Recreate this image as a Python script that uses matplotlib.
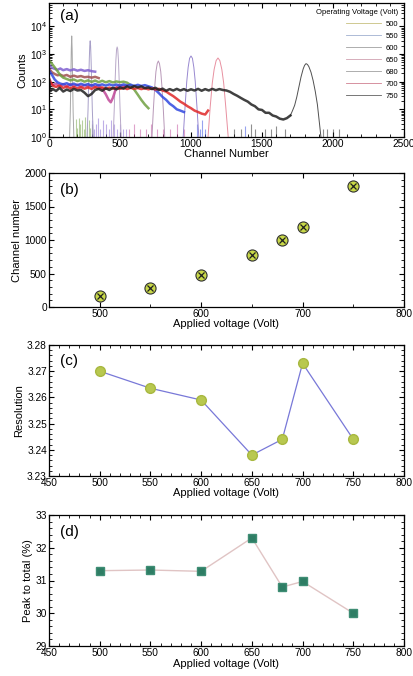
import matplotlib
matplotlib.use("Agg")
import matplotlib.pyplot as plt
from matplotlib.ticker import LogLocator, NullFormatter, MultipleLocator, FormatStrFormatter
from matplotlib.lines import Line2D

plt.rcParams['font.family'] = ['Liberation Sans', 'DejaVu Sans']
plt.rcParams['mathtext.fontset'] = 'custom'
plt.rcParams['mathtext.rm'] = 'Liberation Sans'

# ---------------- data ----------------
voltages = [500, 550, 600, 650, 680, 700, 750]
peak_channel = [160, 290, 480, 770, 1000, 1190, 1810]
resolution = [3.270, 3.2635, 3.259, 3.238, 3.244, 3.273, 3.244]
peak_to_total = [31.30, 31.32, 31.28, 32.30, 30.80, 30.97, 30.00]

spec_colors = ['#a05050', '#8060d0', '#c04898', '#70a040', '#3048e0', '#e02828', '#202020']
peak_colors = ['#a8a8a8', '#a8a0c8', '#b8a8c8', '#b898b8', '#9888d0', '#e890a0', '#505050']

# continuum (channel, counts) per voltage
cont_ch_500 = [0, 20, 40, 60, 80, 100, 125, 150, 175, 200, 225, 250, 275, 300, 325, 350]
cont_ct_500 = [300, 220, 190, 170, 180, 160, 175, 150, 165, 150, 160, 145, 150, 140, 150, 135]

cont_ch_550 = [0, 20, 40, 60, 80, 100, 125, 150, 175, 200, 225, 250, 275, 300, 325]
cont_ct_550 = [420, 320, 290, 270, 300, 260, 285, 255, 280, 250, 270, 245, 260, 240, 230]

cont_ch_600 = [0, 25, 50, 75, 100, 125, 150, 175, 200, 225, 250, 275, 300, 325, 350, 375, 400,
               420, 435, 450, 465, 480, 500, 525, 550]
cont_ct_600 = [95, 75, 85, 70, 82, 68, 80, 70, 78, 66, 76, 68, 75, 66, 72, 55, 35,
               22, 18, 26, 45, 65, 75, 68, 72]

cont_ch_650 = [0, 20, 40, 60, 80, 100, 125, 150, 175, 200, 225, 250, 275, 300, 325, 350, 375,
               400, 425, 450, 475, 500, 525, 550, 575, 600, 625, 650, 675, 700]
cont_ct_650 = [600, 450, 330, 240, 170, 140, 125, 112, 120, 105, 115, 100, 112, 98, 110, 96, 108,
               95, 105, 94, 102, 96, 100, 92, 75, 52, 34, 22, 15, 11]

cont_ch_680 = [0, 20, 40, 60, 80, 100, 125, 150, 175, 200, 225, 250, 275, 300, 325, 350, 375,
               400, 425, 450, 475, 500, 525, 550, 575, 600, 625, 650, 675, 700, 725, 750,
               775, 800, 825, 850, 875, 900, 925, 950]
cont_ct_680 = [250, 180, 120, 95, 85, 80, 88, 76, 85, 74, 84, 75, 82, 72, 82, 74, 80,
               72, 80, 73, 79, 71, 80, 72, 78, 70, 77, 70, 75, 68, 62, 50,
               38, 28, 22, 16, 13, 10, 9, 8]

cont_ch_700 = [0, 15, 30, 50, 75, 100, 125, 150, 175, 200, 225, 250, 275, 300, 325, 350, 375,
               400, 425, 450, 475, 500, 525, 550, 575, 600, 625, 650, 675, 700, 725, 750,
               775, 800, 825, 850, 875, 900, 925, 950, 975, 1000, 1025, 1050, 1075, 1100, 1120]
cont_ct_700 = [130, 90, 70, 65, 72, 60, 66, 58, 64, 57, 63, 56, 62, 55, 63, 57, 62,
               55, 61, 56, 60, 55, 61, 54, 60, 55, 59, 54, 58, 53, 57, 52,
               55, 48, 44, 36, 30, 24, 19, 16, 13, 11, 9, 8, 7, 6.5, 9]

cont_ch_750 = [0, 10, 25, 50, 75, 100, 125, 150, 175, 200, 225, 250, 275, 300, 325, 350, 375,
               400, 425, 450, 475, 500, 525, 550, 575, 600, 625, 650, 675, 700, 725, 750,
               775, 800, 825, 850, 875, 900, 925, 950, 975, 1000, 1025, 1050, 1075, 1100,
               1125, 1150, 1175, 1200, 1225, 1250, 1275, 1300, 1325, 1350, 1375, 1400,
               1425, 1450, 1475, 1500, 1525, 1550, 1575, 1600, 1625, 1650, 1675, 1700]
cont_ct_750 = [120, 45, 55, 46, 60, 44, 52, 46, 55, 48, 50, 40, 30, 36, 50, 55, 47,
               58, 50, 60, 53, 62, 56, 68, 60, 70, 62, 68, 58, 62, 54, 60,
               50, 56, 47, 54, 48, 55, 48, 54, 47, 53, 48, 55, 47, 54,
               48, 55, 49, 54, 50, 48, 43, 36, 31, 26, 22, 19,
               15, 13, 10, 9.5, 7.5, 7.5, 6, 5.5, 4.6, 4.3, 4.8, 6.0]

# photo-peaks (channel, counts) per voltage
peak_ch_500 = [145, 150, 154, 157, 160, 163, 166, 170, 175]
peak_ct_500 = [1, 8, 150, 1500, 4500, 1500, 150, 8, 1]
peak_ch_550 = [268, 275, 280, 284, 287, 290, 293, 296, 300, 305, 312]
peak_ct_550 = [1, 10, 120, 700, 2000, 3000, 2000, 700, 120, 10, 1]
peak_ch_600 = [452, 460, 466, 471, 476, 480, 484, 489, 494, 500, 508]
peak_ct_600 = [1, 12, 120, 600, 1500, 1800, 1500, 600, 120, 12, 1]
peak_ch_650 = [725, 735, 745, 753, 762, 770, 778, 787, 795, 805, 815]
peak_ct_650 = [1, 10, 70, 230, 450, 560, 450, 230, 70, 10, 1]
peak_ch_680 = [945, 958, 970, 980, 990, 1000, 1010, 1020, 1030, 1042, 1055]
peak_ct_680 = [1, 12, 100, 330, 700, 850, 700, 330, 100, 12, 1]
peak_ch_700 = [1120, 1135, 1150, 1163, 1177, 1190, 1203, 1217, 1230, 1245, 1262]
peak_ct_700 = [1, 12, 90, 280, 580, 720, 580, 280, 90, 12, 1]
peak_ch_750 = [1700, 1715, 1730, 1745, 1760, 1775, 1790, 1800, 1810, 1820, 1830, 1845,
               1860, 1875, 1890, 1905, 1915]
peak_ct_750 = [6, 9, 14, 28, 65, 150, 290, 390, 450, 420, 350, 220, 110, 45, 15, 3, 1]

# sparse low-count channels above the peaks
spike_ch_650 = [190, 200, 210, 220, 235, 245, 255, 265, 280, 290, 300]
spike_ct_650 = [4.5, 2.2, 5.0, 3.0, 4.0, 2.0, 5.2, 3.0, 4.0, 2.2, 3.0]
spike_ch_550 = [300, 315, 330, 345, 360, 380, 400, 420, 440, 460, 480, 500, 520, 540]
spike_ct_550 = [4.0, 2.0, 3.0, 5.0, 2.0, 4.0, 3.0, 2.0, 4.0, 3.0, 2.0, 3.0, 2.0, 2.0]
spike_ch_600 = [560, 600, 640, 680, 720, 760, 800, 850, 900, 950]
spike_ct_600 = [2.0, 3.0, 2.0, 2.0, 3.0, 2.0, 2.0, 2.0, 3.0, 2.0]
spike_ch_680 = [1040, 1060, 1080, 1100, 1380]
spike_ct_680 = [3.0, 2.0, 4.0, 2.0, 2.5]
spike_ch_750 = [1300, 1350, 1420, 1450, 1520, 1560, 1600, 1660, 1930, 1960, 2000, 2040]
spike_ct_750 = [2.0, 2.0, 3.0, 2.0, 2.0, 2.0, 2.5, 2.0, 2.0, 2.0, 2.0, 2.0]

continua = [(cont_ch_500, cont_ct_500), (cont_ch_550, cont_ct_550), (cont_ch_600, cont_ct_600),
            (cont_ch_650, cont_ct_650), (cont_ch_680, cont_ct_680), (cont_ch_700, cont_ct_700),
            (cont_ch_750, cont_ct_750)]
peaks = [(peak_ch_500, peak_ct_500), (peak_ch_550, peak_ct_550), (peak_ch_600, peak_ct_600),
         (peak_ch_650, peak_ct_650), (peak_ch_680, peak_ct_680), (peak_ch_700, peak_ct_700),
         (peak_ch_750, peak_ct_750)]
spikes = [(spike_ch_650, spike_ct_650, 3), (spike_ch_550, spike_ct_550, 1),
          (spike_ch_600, spike_ct_600, 2), (spike_ch_680, spike_ct_680, 4),
          (spike_ch_750, spike_ct_750, 6)]
legend_colors = ['#c8c080', '#a0b0d0', '#a0a0a0', '#d0a0b0', '#a0a0a0', '#d08090', '#606060']

# ---------------- figure ----------------
fig = plt.figure(figsize=(4.14, 6.76), dpi=100)
W, H = 414, 676

def add_ax(top, bottom, left=49, right=404):
    return fig.add_axes([left / W, 1 - bottom / H, (right - left) / W, (bottom - top) / H])

ax_a = add_ax(3, 137)
ax_b = add_ax(173, 307)
ax_c = add_ax(345, 476)
ax_d = add_ax(515, 646)

tick_fs = 7.3
label_fs = 8

def style(ax):
    ax.tick_params(which='both', direction='in', top=True, right=True, labelsize=tick_fs, pad=1.5)
    ax.tick_params(which='major', length=3.5, width=0.8)
    ax.tick_params(which='minor', length=2, width=0.6)
    for s in ax.spines.values():
        s.set_linewidth(0.9)

# (a)
for ch, ct, i in spikes:
    ax_a.vlines(ch, 1, ct, color=spec_colors[i], lw=0.8, alpha=0.5)
for (ch, ct), col in zip(peaks, peak_colors):
    ax_a.plot(ch, ct, color=col, lw=0.7)
for (ch, ct), col in zip(continua, spec_colors):
    ax_a.plot(ch, ct, color=col, lw=1.8, alpha=0.85)
ax_a.set_yscale('log')
ax_a.set_xlim(0, 2500)
ax_a.set_ylim(1, 7e4)
ax_a.xaxis.set_major_locator(MultipleLocator(500))
ax_a.xaxis.set_minor_locator(MultipleLocator(100))
ax_a.yaxis.set_major_locator(LogLocator(base=10, numticks=10))
ax_a.yaxis.set_minor_locator(LogLocator(base=10, subs=range(2, 10), numticks=10))
ax_a.yaxis.set_minor_formatter(NullFormatter())
ax_a.set_xlabel('Channel Number', fontsize=label_fs, labelpad=0)
ax_a.set_ylabel('Counts', fontsize=label_fs, labelpad=2)
style(ax_a)
ax_a.text(0.03, 0.9, '(a)', transform=ax_a.transAxes, fontsize=11, va='center', ha='left')
handles = [Line2D([], [], color=c, lw=0.6) for c in legend_colors]
leg = ax_a.legend(handles, [str(v) for v in voltages], title='Operating Voltage (Volt)',
                  loc='upper right', frameon=False, fontsize=5.5, title_fontsize=5.5,
                  handlelength=4.5, handletextpad=0.6, labelspacing=0.6,
                  borderaxespad=0.4, alignment='right')

# (b)
ax_b.plot(voltages, peak_channel, ls='none', marker='o', ms=8, mfc='#c8d848', mec='#303030', mew=0.8)
ax_b.plot(voltages, peak_channel, ls='none', marker='x', ms=5, color='#202020', mew=0.9)
ax_b.set_xlim(450, 800)
ax_b.set_ylim(0, 2000)
ax_b.xaxis.set_major_locator(MultipleLocator(100))
ax_b.xaxis.set_minor_locator(MultipleLocator(50))
ax_b.yaxis.set_major_locator(MultipleLocator(500))
ax_b.yaxis.set_minor_locator(MultipleLocator(100))
ax_b.set_xlabel('Applied voltage (Volt)', fontsize=label_fs, labelpad=0)
ax_b.set_ylabel('Channel number', fontsize=label_fs, labelpad=2)
style(ax_b)
ax_b.text(0.03, 0.87, '(b)', transform=ax_b.transAxes, fontsize=11, va='center', ha='left')

# (c)
ax_c.plot(voltages, resolution, color='#7878d8', lw=0.9, marker='o', ms=7,
          mfc='#b8c850', mec='#a8b840')
ax_c.set_xlim(450, 800)
ax_c.set_ylim(3.23, 3.28)
ax_c.xaxis.set_major_locator(MultipleLocator(50))
ax_c.xaxis.set_minor_locator(MultipleLocator(10))
ax_c.yaxis.set_major_locator(MultipleLocator(0.01))
ax_c.yaxis.set_minor_locator(MultipleLocator(0.002))
ax_c.yaxis.set_major_formatter(FormatStrFormatter('%.2f'))
ax_c.set_xlabel('Applied voltage (Volt)', fontsize=label_fs, labelpad=0)
ax_c.set_ylabel('Resolution', fontsize=label_fs, labelpad=2)
style(ax_c)
ax_c.text(0.03, 0.88, '(c)', transform=ax_c.transAxes, fontsize=11, va='center', ha='left')

# (d)
ax_d.plot(voltages, peak_to_total, color='#e0c4c4', lw=1.0, marker='s', ms=5.5,
          mfc='#2e7d64', mec='#3e8d74')
ax_d.set_xlim(450, 800)
ax_d.set_ylim(29, 33)
ax_d.xaxis.set_major_locator(MultipleLocator(50))
ax_d.xaxis.set_minor_locator(MultipleLocator(10))
ax_d.yaxis.set_major_locator(MultipleLocator(1))
ax_d.yaxis.set_minor_locator(MultipleLocator(0.2))
ax_d.set_xlabel('Applied voltage (Volt)', fontsize=label_fs, labelpad=1)
ax_d.set_ylabel('Peak to total (%)', fontsize=label_fs, labelpad=2)
style(ax_d)
ax_d.text(0.03, 0.87, '(d)', transform=ax_d.transAxes, fontsize=11, va='center', ha='left')

fig.savefig('out.png', dpi=100)
